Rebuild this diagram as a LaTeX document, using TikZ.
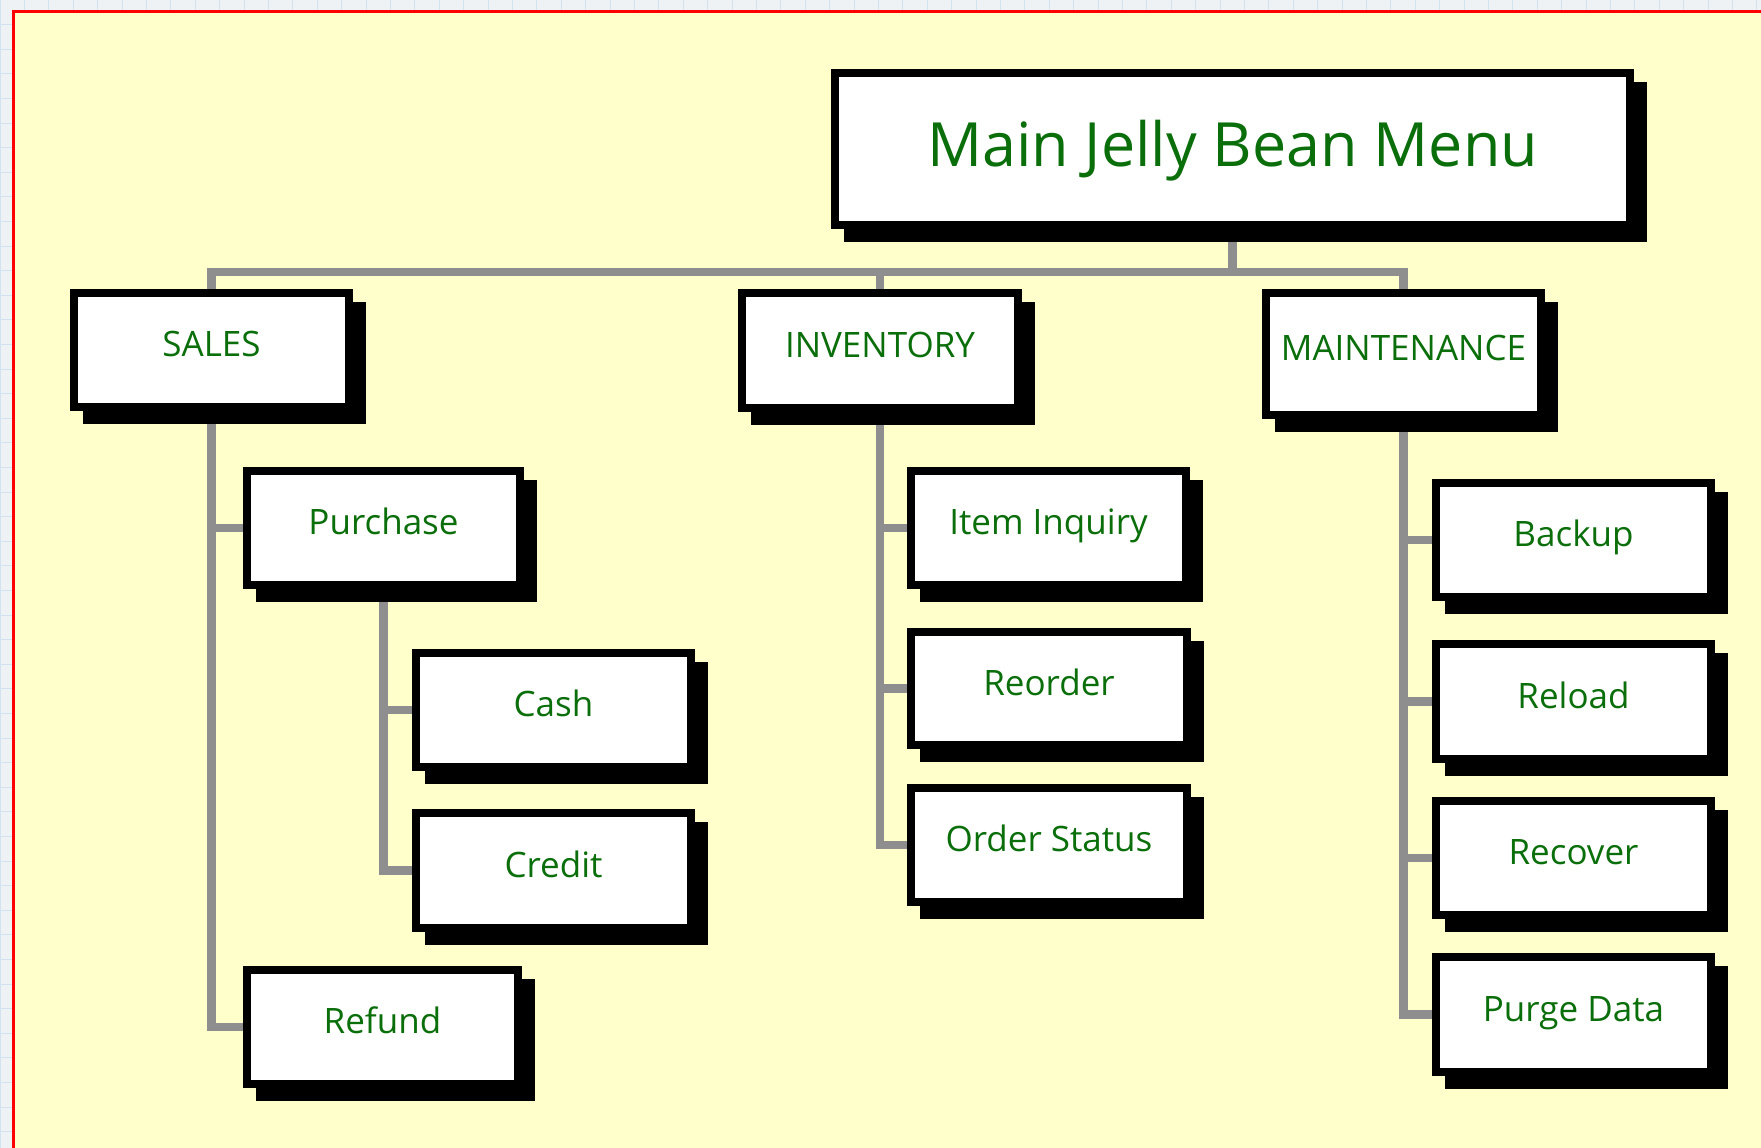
\documentclass[tikz,border=0pt]{standalone}
\usepackage{fontspec}
\setmainfont{Open Sans}
\usetikzlibrary{backgrounds}

\definecolor{paper}{HTML}{FFFFCC}
\definecolor{jbgreen}{RGB}{10,110,10}
\definecolor{wire}{HTML}{8E8E8E}
\definecolor{sheet}{HTML}{EEF2F5}
\definecolor{ruling}{HTML}{D3E2F0}

\pgfdeclarelayer{paperlayer}
\pgfsetlayers{paperlayer,background,main}

\tikzset{
  menubox/.style={draw=black, line width=8pt, fill=white, inner sep=0pt,
    text=jbgreen, font=\fontsize{35}{42}\selectfont,
    text height=19pt, text depth=6pt},
  titlebox/.style={menubox, font=\fontsize{61}{72}\selectfont,
    text height=44pt, text depth=9.5pt},
  boxshadow/.style={fill=black},
  link/.style={draw=wire, line width=8.5pt},
  ruleline/.style={draw=ruling, line width=1pt},
}

% style, name, left, top, right, bottom (outer edges), label
\newcommand\menuitem[7]{%
  \fill[boxshadow] (#3+12.5,#4+12.5) rectangle (#5+12.5,#6+12.5);
  \node[#1, minimum width={#5-#3-8}, minimum height={#6-#4-8}]
    (#2) at ({(#3+#5)/2},{(#4+#6)/2}) {#7};
}

\begin{document}
\begin{tikzpicture}[x=1pt,y=-1pt]
\useasboundingbox (0,0) rectangle (1761,1148);

% sheet with ruled grid and the yellow page with its red edge
\begin{pgfonlayer}{paperlayer}
  \fill[sheet] (0,0) rectangle (1761,1148);
  \foreach \g in {0,24.4,...,1761} \draw[ruleline] (\g,0) -- (\g,1148);
  \foreach \g in {0,24.6,...,1148} \draw[ruleline] (0,\g) -- (1761,\g);
  \fill[paper] (13,11.5) rectangle (1765,1152);
  \draw[red, line width=3pt] (1765,11.5) -- (13,11.5) -- (13,1152);
\end{pgfonlayer}

% menu boxes
\menuitem{titlebox}{main}{831}{69}{1634}{229}{Main Jelly Bean Menu}
\menuitem{menubox}{sales}{70}{289}{353}{411}{SALES}
\menuitem{menubox}{inv}{738}{289}{1022}{412}{INVENTORY}
\menuitem{menubox}{maint}{1262}{289}{1545}{419}{MAINTENANCE}
\menuitem{menubox}{purchase}{243}{467}{524}{589}{Purchase}
\menuitem{menubox}{cash}{412}{649}{695}{771}{Cash}
\menuitem{menubox}{credit}{412}{809}{695}{932}{Credit}
\menuitem{menubox}{refund}{243}{966}{522}{1088}{Refund}
\menuitem{menubox}{inquiry}{907}{467}{1190}{589}{Item Inquiry}
\menuitem{menubox}{reorder}{907}{628}{1191}{749}{Reorder}
\menuitem{menubox}{status}{907}{784}{1191}{906}{Order Status}
\menuitem{menubox}{backup}{1432}{479}{1715}{601}{Backup}
\menuitem{menubox}{reload}{1432}{640}{1715}{763}{Reload}
\menuitem{menubox}{recover}{1432}{797}{1715}{919}{Recover}
\menuitem{menubox}{purge}{1432}{953}{1715}{1076}{Purge Data}

% connectors
\coordinate (bus) at (0,272);
\begin{pgfonlayer}{background}
  \draw[link] (main.south) -- (main.south |- bus);
  \draw[link] (sales.north) -- (sales.north |- bus) -- (maint.north |- bus) -- (maint.north);
  \draw[link] (inv.north) -- (inv.north |- bus);

  \draw[link] (sales.south) |- (refund.west);
  \draw[link] (sales.south |- purchase.west) -- (purchase.west);

  \draw[link] (purchase.south) |- (credit.west);
  \draw[link] (purchase.south |- cash.west) -- (cash.west);

  \draw[link] (inv.south) |- (status.west);
  \draw[link] (inv.south |- inquiry.west) -- (inquiry.west);
  \draw[link] (inv.south |- reorder.west) -- (reorder.west);

  \draw[link] (maint.south) |- (purge.west);
  \draw[link] (maint.south |- backup.west) -- (backup.west);
  \draw[link] (maint.south |- reload.west) -- (reload.west);
  \draw[link] (maint.south |- recover.west) -- (recover.west);
\end{pgfonlayer}
\end{tikzpicture}
\end{document}
